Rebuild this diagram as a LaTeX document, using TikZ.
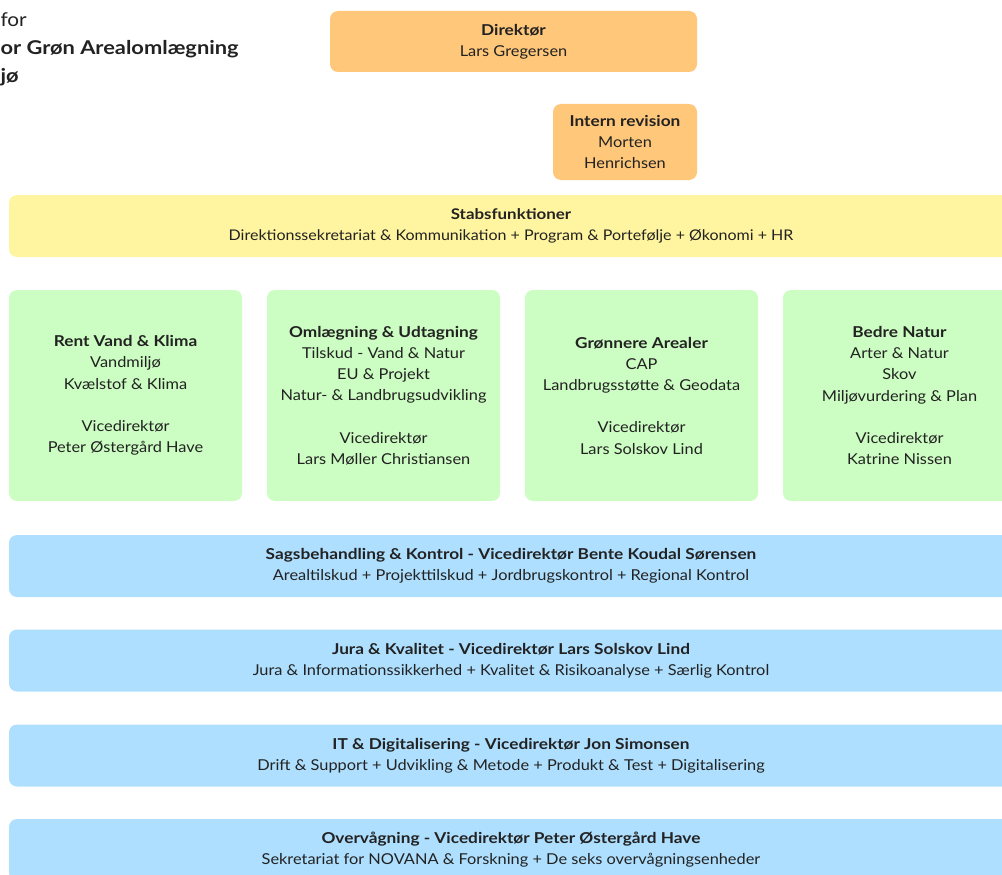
\documentclass[tikz,border=0pt]{standalone}
\usepackage{fontspec}
\setmainfont{Lato}[FakeStretch=1.09, BoldFeatures={FakeStretch=1.15}]
\usetikzlibrary{positioning}
\definecolor{txt}{HTML}{222222}
\definecolor{chef}{HTML}{FFC77A}
\definecolor{staff}{HTML}{FFF49F}
\definecolor{unit}{HTML}{CCFDC2}
\definecolor{band}{HTML}{AEDFFE}
\tikzstyle{box} = [rectangle, rounded corners=8pt, inner sep=0pt, align=center, text=txt, font=\fontsize{15}{21.2}\selectfont]
\tikzstyle{lead} = [box, fill=chef]
\tikzstyle{staff} = [box, fill=staff, minimum width=1004pt, minimum height=62pt]
\tikzstyle{unit} = [box, fill=unit, minimum width=233pt, minimum height=211pt]
\tikzstyle{band} = [box, fill=band, minimum width=1004pt, minimum height=62pt]

\begin{document}
\begin{tikzpicture}[x=1pt,y=-1pt]
            \useasboundingbox (0,0) rectangle (1002,875);

            % title, cut at the left edge
            \node[anchor=west, align=left, text=txt, font=\fontsize{19}{28}\selectfont] (Title) at (-3,49) {for\\\textbf{or Grøn Arealomlægning}\\\textbf{jø}};

            \node[lead, minimum width=367pt, minimum height=61pt] (Chef) at (513.5,41.5) {\textbf{Direktør}\\Lars Gregersen};
            \node[lead, minimum width=144pt, minimum height=76pt] (Revision) at (625,142) {\textbf{Intern revision}\\Morten\\Henrichsen};

            \node[staff, font=\fontsize{14.7}{21.2}\selectfont] (Stab) at (511,226) {\textbf{Stabsfunktioner}\\Direktionssekretariat \& Kommunikation + Program \& Portefølje + Økonomi + HR};

            \node[unit] (Vand) at (125.5,395.5) {\textbf{Rent Vand \& Klima}\\Vandmiljø\\Kvælstof \& Klima\\[21.2pt]Vicedirektør\\Peter Østergård Have};
            \node[unit] (Omlaeg) [right of=Vand, node distance=258pt] {\textbf{Omlægning \& Udtagning}\\Tilskud - Vand \& Natur\\EU \& Projekt\\Natur- \& Landbrugsudvikling\\[21.2pt]Vicedirektør\\Lars Møller Christiansen};
            \node[unit] (Areal) [right of=Omlaeg, node distance=258pt] {\textbf{Grønnere Arealer}\\CAP\\Landbrugsstøtte \& Geodata\\[21.2pt]Vicedirektør\\Lars Solskov Lind};
            \node[unit] (Natur) [right of=Areal, node distance=258pt] {\textbf{Bedre Natur}\\Arter \& Natur\\Skov\\Miljøvurdering \& Plan\\[21.2pt]Vicedirektør\\Katrine Nissen};

            \node[band] (Sag) at (511,566) {\textbf{Sagsbehandling \& Kontrol - Vicedirektør Bente Koudal Sørensen}\\Arealtilskud + Projekttilskud + Jordbrugskontrol + Regional Kontrol};
            \node[band] (Jura) [below of=Sag, node distance=94.5pt] {\textbf{Jura \& Kvalitet - Vicedirektør Lars Solskov Lind}\\Jura \& Informationssikkerhed + Kvalitet \& Risikoanalyse + Særlig Kontrol};
            \node[band] (IT) [below of=Jura, node distance=95pt] {\textbf{IT \& Digitalisering - Vicedirektør Jon Simonsen}\\Drift \& Support + Udvikling \& Metode + Produkt \& Test + Digitalisering};
            \node[band] (Overv) [below of=IT, node distance=94.5pt] {\textbf{Overvågning - Vicedirektør Peter Østergård Have}\\Sekretariat for NOVANA \& Forskning + De seks overvågningsenheder};
        \end{tikzpicture}
\end{document}
